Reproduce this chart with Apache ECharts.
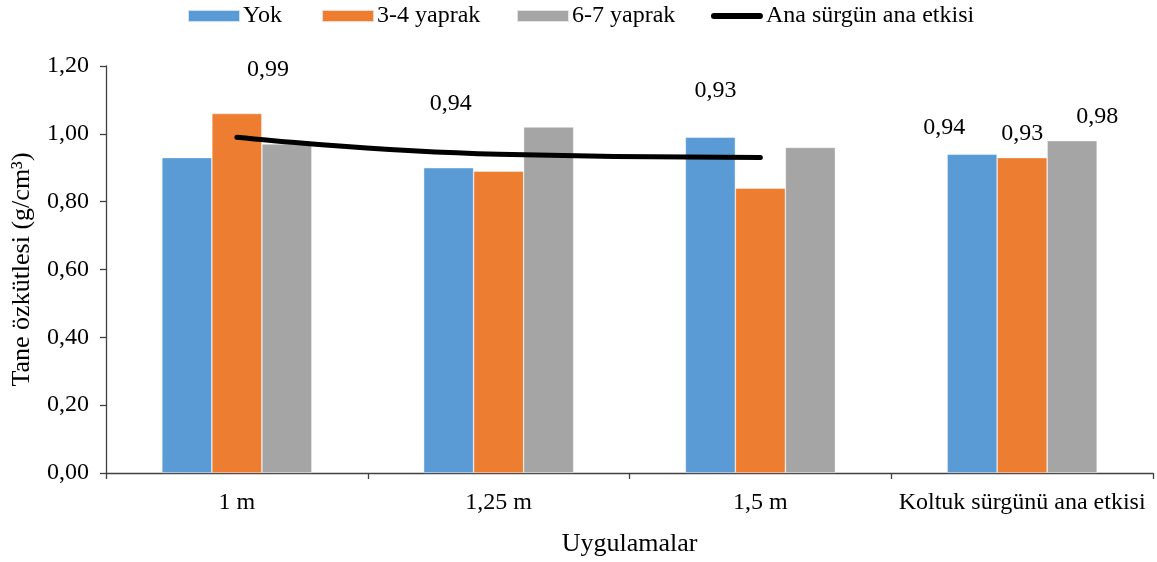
<!DOCTYPE html>
<html>
<head>
<meta charset="utf-8">
<script src="https://cdn.jsdelivr.net/npm/echarts@6/dist/echarts.min.js"></script>
<style>
  html, body { margin: 0; padding: 0; background: #fff; }
  #chart { width: 1157px; height: 562px; }
</style>
</head>
<body>
<div id="chart"></div>
<script>
// Categories and measured values (grain density, g/cm³)
const categories = ['1 m', '1,25 m', '1,5 m', 'Koltuk sürgünü ana etkisi'];
const yokValues = [0.93, 0.90, 0.99, 0.94];
const yaprak34Values = [1.06, 0.89, 0.84, 0.93];
const yaprak67Values = [0.97, 1.02, 0.96, 0.98];
const anaSurgunValues = [0.99, 0.94, 0.93, '-'];
const seriesNames = ['Yok', '3-4 yaprak', '6-7 yaprak', 'Ana sürgün ana etkisi'];

// Label placement tweaks (pixel offsets)
const lineLabelOffsets = [[31, -55], [-48, -38], [-45, -54]];
const koltukLabelOffsets = [[-28, -2], [0, 0], [25, 0]];
// left edge of each legend entry
const legendLefts = [187, 321, 516, 711];

const FONT = 'Liberation Serif, Times New Roman, serif';
const FS = 24;
const FS_TITLE = 26;
const fmt = v => Number(v).toFixed(2).replace('.', ',');

// thick rounded bar used as the legend icon of the line series
const LINE_ICON = 'path://M0,0h0.01v0.01h-0.01Z M52,12h0.01v0.01h-0.01Z ' +
  'M3,3h46a3,3 0 0 1 0,6h-46a3,3 0 0 1 0,-6Z';
const legendIcons = ['rect', 'rect', 'rect', LINE_ICON];

function barSeries(name, values, color, idx) {
  return {
    name: name,
    type: 'bar',
    barWidth: 50,
    barGap: '0%',
    itemStyle: { color: color, borderColor: 'rgba(255,255,255,0.7)', borderWidth: 0.6 },
    label: {
      show: false, position: 'top', distance: 12,
      fontFamily: FONT, fontSize: FS, color: '#000',
      formatter: p => fmt(p.value)
    },
    data: values.map((v, i) => i === categories.length - 1
      ? { value: v, label: { show: true, offset: koltukLabelOffsets[idx] } }
      : v)
  };
}

const legends = seriesNames.map((name, i) => ({
  left: legendLefts[i], top: 4, padding: 0,
  itemWidth: 52, itemHeight: 12,
  textStyle: { fontFamily: FONT, fontSize: FS, color: '#000', padding: [0, 0, 0, -2] },
  data: [{ name: name, icon: legendIcons[i] }]
}));

const chart = echarts.init(document.getElementById('chart'), null, { renderer: 'canvas' });
chart.setOption({
  animation: false,
  textStyle: { fontFamily: FONT, color: '#000' },
  legend: legends,
  grid: { left: 106, right: 4, top: 66, bottom: 85, containLabel: false },
  xAxis: {
    type: 'category',
    data: categories,
    name: 'Uygulamalar',
    nameLocation: 'middle',
    nameGap: 58,
    nameTextStyle: { fontFamily: FONT, fontSize: FS_TITLE, color: '#000' },
    axisLine: { lineStyle: { color: '#404040', width: 1.3 } },
    axisTick: { show: true, interval: 0, length: 6, lineStyle: { color: '#404040', width: 1.3 } },
    axisLabel: { interval: 0, margin: 18, fontFamily: FONT, fontSize: FS, color: '#000' },
    splitLine: { show: false }
  },
  yAxis: {
    type: 'value',
    min: 0, max: 1.2, interval: 0.2,
    name: 'Tane özkütlesi (g/cm³)',
    nameLocation: 'middle',
    nameGap: 71,
    nameTextStyle: { fontFamily: FONT, fontSize: FS_TITLE, color: '#000' },
    axisLine: { show: true, lineStyle: { color: '#404040', width: 1.3 } },
    axisTick: { show: true, length: 6, lineStyle: { color: '#404040', width: 1.3 } },
    axisLabel: { margin: 17, fontFamily: FONT, fontSize: FS, color: '#000', formatter: v => fmt(v) },
    splitLine: { show: false }
  },
  series: [
    barSeries(seriesNames[0], yokValues, '#5B9BD5', 0),
    barSeries(seriesNames[1], yaprak34Values, '#ED7D31', 1),
    barSeries(seriesNames[2], yaprak67Values, '#A5A5A5', 2),
    {
      name: seriesNames[3],
      type: 'line',
      smooth: 0.5,
      symbol: 'none',
      lineStyle: { color: '#000', width: 5, cap: 'round' },
      itemStyle: { color: '#000' },
      data: anaSurgunValues
    },
    {
      // value labels of the main-shoot line
      name: 'anaLabels',
      type: 'scatter',
      symbolSize: 1,
      itemStyle: { color: 'rgba(0,0,0,0)', opacity: 1 },
      silent: true,
      label: {
        show: true, position: 'top', distance: 0,
        fontFamily: FONT, fontSize: FS, color: '#000', opacity: 1,
        formatter: p => fmt(p.value)
      },
      data: anaSurgunValues.map((v, i) => v === '-' ? v
        : { value: v, label: { offset: lineLabelOffsets[i] } })
    }
  ]
});
</script>
</body>
</html>
